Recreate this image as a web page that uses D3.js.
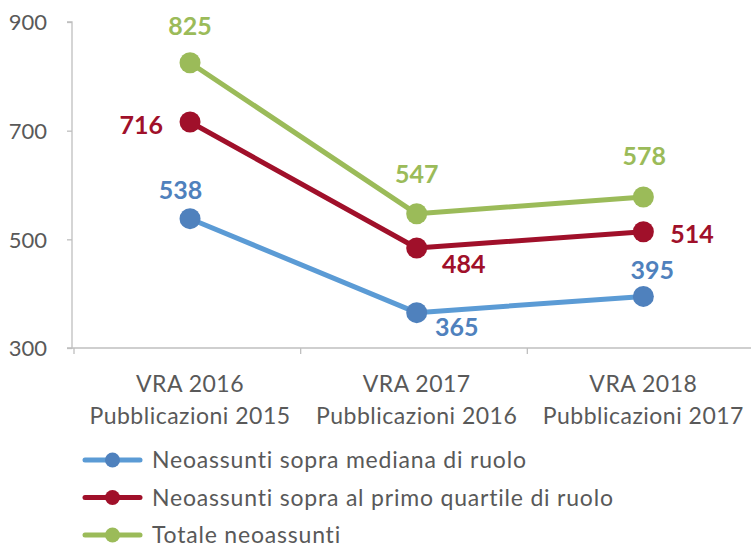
<!DOCTYPE html>
<html><head><meta charset="utf-8">
<script src="https://cdn.jsdelivr.net/npm/d3@7"></script>
<style>body{margin:0;background:#fff}svg{display:block}text{font-family:Lato,"Noto Sans",sans-serif}</style>
</head><body>
<svg id="c" width="751" height="547"></svg>
<script>
const categories = [["VRA 2016","Pubblicazioni 2015"],["VRA 2017","Pubblicazioni 2016"],["VRA 2018","Pubblicazioni 2017"]];
const seriesNames = ["Neoassunti sopra mediana di ruolo","Neoassunti sopra al primo quartile di ruolo","Totale neoassunti"];
const medianaValues = [538, 365, 395];
const quartileValues = [716, 484, 514];
const totaleValues = [825, 547, 578];
const yTicks = [300, 500, 700, 900];

// label placement (offsets from each dot), kept apart from the data
const labelPlacement = [
  [[-9.5,-28.5,"middle"],[40,14,"middle"],[9,-26.5,"middle"]],
  [[-27,3,"end"],[47,15.5,"middle"],[27,2,"start"]],
  [[0,-36.5,"middle"],[0,-40,"middle"],[1,-40.5,"middle"]]
];

const series = [
  {name: seriesNames[0], values: medianaValues, line: "#5B9BD5", dot: "#4F81BD", label: "#4F81BD"},
  {name: seriesNames[1], values: quartileValues, line: "#A0102A", dot: "#A0102A", label: "#A0102A"},
  {name: seriesNames[2], values: totaleValues, line: "#9BBB59", dot: "#9BBB59", label: "#9BBB59"}
];

const svg = d3.select("#c");
const x = d3.scaleBand().domain(categories.map(c => c[0])).range([74, 754]);
const y = d3.scaleLinear().domain([300, 900]).range([348, 22]);
const cx = i => x(categories[i][0]) + x.bandwidth()/2 + 2.7;

// Y axis
const ya = svg.append("g").attr("transform","translate(72,0)")
  .call(d3.axisLeft(y).tickValues(yTicks).tickSize(5).tickPadding(20).tickFormat(d3.format("d")));
ya.select(".domain").attr("stroke","#BFBFBF").attr("stroke-width",1.3).attr("d","M-5,22H0V348H-5");
ya.selectAll(".tick line").attr("stroke","#BFBFBF").attr("stroke-width",1.3);
ya.selectAll(".tick text").attr("fill","#595959").style("font-size","22px").style("font-family","Lato").attr("dy","0.36em");

// X axis
const xa = svg.append("g").attr("transform","translate(0,348)")
  .call(d3.axisBottom(x).tickSize(0).tickFormat(""));
xa.select(".domain").attr("stroke","#BFBFBF").attr("stroke-width",1.3).attr("d","M72,0H751");
xa.selectAll(".tick").remove();
[0,1,2,3].forEach(i => {
  const xv = i < 3 ? x(categories[i][0]) : x(categories[2][0]) + x.bandwidth();
  xa.append("line").attr("x1", xv).attr("x2", xv).attr("y1",0).attr("y2",6).attr("stroke","#BFBFBF").attr("stroke-width",1.3);
});
categories.forEach((c,i) => {
  const t = svg.append("text").attr("text-anchor","middle").attr("fill","#595959")
    .style("font-size","23px").style("letter-spacing","0.5px");
  t.append("tspan").attr("x", cx(i)).attr("y", 392).text(c[0]);
  t.append("tspan").attr("x", cx(i)).attr("y", 424).text(c[1]);
});

// Lines + dots
const line = d3.line().x((d,i) => cx(i)).y(d => y(d));
series.forEach(s => {
  svg.append("path").datum(s.values).attr("d", line).attr("fill","none")
    .attr("stroke", s.line).attr("stroke-width", 5).attr("stroke-linejoin","round");
  svg.selectAll(null).data(s.values).enter().append("circle")
    .attr("cx", (d,i) => cx(i)).attr("cy", d => y(d)).attr("r", 10.5).attr("fill", s.dot);
});
// Labels
series.forEach((s,si) => {
  s.values.forEach((v,i) => {
    const [dx, dy, anchor] = labelPlacement[si][i];
    svg.append("text").attr("x", cx(i) + dx).attr("y", y(v) + dy).attr("dy","0.36em").attr("text-anchor", anchor)
      .attr("fill", s.label).style("font-size","25px").style("font-weight","bold").text(d3.format("d")(v));
  });
});

// Legend
series.forEach((s,i) => {
  const ly = 460 + i*37.5;
  const g = svg.append("g");
  g.append("line").attr("x1",85).attr("x2",140).attr("y1",ly).attr("y2",ly).attr("stroke", s.line).attr("stroke-width",5).attr("stroke-linecap","round");
  g.append("circle").attr("cx",112.5).attr("cy",ly).attr("r",7.5).attr("fill", s.dot);
  g.append("text").attr("x",152).attr("y",ly).attr("dy","0.36em").attr("fill","#595959")
    .style("font-size","23px").style("letter-spacing","0.8px").text(s.name);
});
</script>
</body></html>
